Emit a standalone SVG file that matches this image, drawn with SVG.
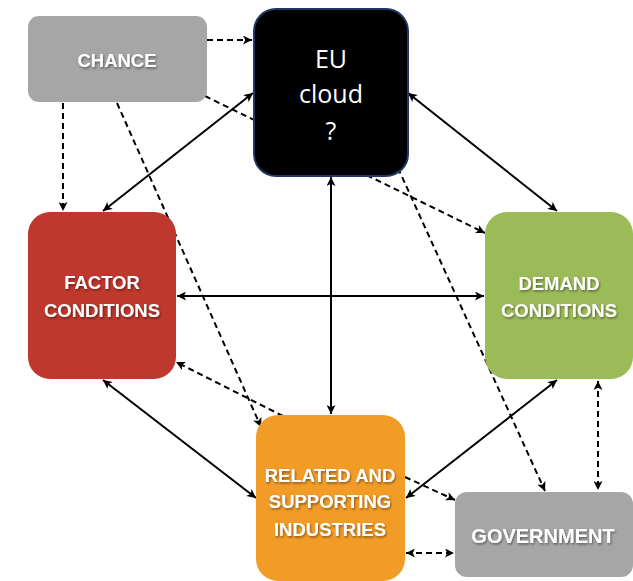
<svg xmlns="http://www.w3.org/2000/svg" width="633" height="581" viewBox="0 0 633 581">
<defs>
<marker id="ah" viewBox="0 0 10 10" refX="10" refY="5" markerWidth="10" markerHeight="9" markerUnits="userSpaceOnUse" orient="auto-start-reverse">
<path d="M0,0 L10,5 L0,10 L2.5,5 z" fill="#000"/>
</marker>
<filter id="sh" x="-10%" y="-30%" width="120%" height="160%">
<feDropShadow dx="1" dy="1.5" stdDeviation="1" flood-color="#000" flood-opacity="0.45"/>
</filter>
</defs>
<style>
.ln{stroke:#000;stroke-width:2;fill:none}
.ds{stroke-dasharray:6 4}
.e{marker-end:url(#ah)}
.b{marker-start:url(#ah);marker-end:url(#ah)}
.lbl{font-family:"Liberation Sans",Arial,sans-serif;font-weight:bold;font-size:18.5px;fill:#fff;text-anchor:middle;filter:url(#sh)}
.eu{font-family:"Open Sans","Liberation Sans",sans-serif;font-size:25px;fill:#fff;text-anchor:middle}
</style>
<rect width="633" height="581" fill="#fff"/>
<g id="connectors">
<line class="ln ds e" x1="207" y1="40" x2="252" y2="40"/>
<line class="ln ds e" x1="205" y1="96" x2="485" y2="233"/>
<line class="ln ds e" x1="63" y1="103" x2="63" y2="211"/>
<line class="ln ds e" x1="117" y1="103" x2="261" y2="427"/>
<line class="ln ds e" x1="398" y1="168" x2="545" y2="491"/>
<line class="ln b" x1="253" y1="93" x2="103" y2="211"/>
<line class="ln b" x1="408" y1="93" x2="557" y2="211"/>
<line class="ln b" x1="177" y1="296" x2="484" y2="296"/>
<line class="ln b" x1="331" y1="177" x2="331" y2="414"/>
<line class="ln b" x1="103" y1="380" x2="256" y2="498"/>
<line class="ln ds e" x1="283" y1="416" x2="176" y2="362"/>
<line class="ln b" x1="557" y1="380" x2="406" y2="498"/>
<line class="ln ds e" x1="405" y1="477" x2="455" y2="500"/>
<line class="ln ds b" x1="406" y1="553" x2="454" y2="553"/>
<line class="ln ds b" x1="598" y1="381" x2="598" y2="490"/>
</g>
<g id="chance">
<rect x="28" y="16" width="179" height="86" rx="11" fill="#a6a6a6"/>
<text class="lbl" x="117" y="67">CHANCE</text>
</g>
<g id="eu-cloud">
<rect x="254" y="9" width="154" height="167" rx="22" fill="#000" stroke="#1f3864" stroke-width="2"/>
<text class="eu" x="331" y="68">EU</text>
<text class="eu" x="331" y="103">cloud</text>
<text class="eu" x="331" y="140">?</text>
</g>
<g id="factor">
<rect x="28" y="212" width="148" height="167" rx="22" fill="#be382d"/>
<text class="lbl" x="102" y="289">FACTOR</text>
<text class="lbl" x="102" y="317">CONDITIONS</text>
</g>
<g id="demand">
<rect x="485" y="212" width="148" height="167" rx="22" fill="#9bbb59"/>
<text class="lbl" x="559" y="290">DEMAND</text>
<text class="lbl" x="559" y="317">CONDITIONS</text>
</g>
<g id="related">
<rect x="256" y="415" width="149" height="166" rx="22" fill="#f29c28"/>
<text class="lbl" x="330" y="482">RELATED AND</text>
<text class="lbl" x="330" y="508">SUPPORTING</text>
<text class="lbl" x="330" y="536">INDUSTRIES</text>
</g>
<g id="government">
<rect x="455" y="492" width="178" height="85" rx="12" fill="#a6a6a6"/>
<text class="lbl" x="543" y="543" style="font-size:20px">GOVERNMENT</text>
</g>
</svg>
